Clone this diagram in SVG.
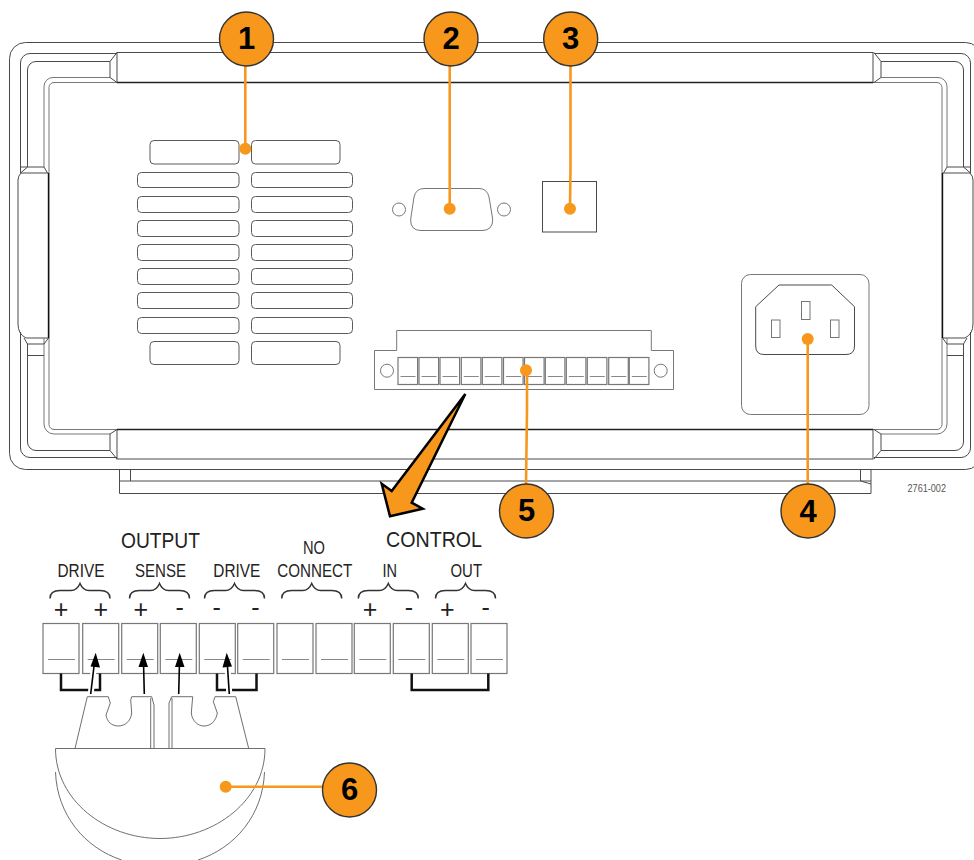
<svg xmlns="http://www.w3.org/2000/svg" xmlns:xlink="http://www.w3.org/1999/xlink" width="974" height="860" viewBox="0 0 974 860">
<style>
.l{fill:none;stroke:#4a4a4a;stroke-width:1}
.g{fill:none;stroke:#777;stroke-width:1}
.w{fill:#fff;stroke:#4a4a4a;stroke-width:1}
.v{fill:#fff;stroke:#5a5a5a;stroke-width:1}
.p{fill:none;stroke:#5f5f5f;stroke-width:.9}
.pw{fill:#fff;stroke:#5f5f5f;stroke-width:.9}
.br{fill:none;stroke:#333;stroke-width:1.5}
.cell{fill:#fff;stroke:#777;stroke-width:1.2}
.dash{stroke:#888;stroke-width:1}
.j{fill:none;stroke:#111;stroke-width:2.5}
.lead{fill:none;stroke:#F7981D;stroke-width:2.6}
.dot{fill:#F7981D}
.badge{fill:#F7981D;stroke:#333;stroke-width:1.4}
.num{font-family:"Liberation Sans",Arial,sans-serif;font-weight:bold;font-size:31px;text-anchor:middle;fill:#000}
.t{font-family:"Liberation Sans",Arial,sans-serif;fill:#222}
.pm{font-family:"Liberation Sans",Arial,sans-serif;font-size:25px;text-anchor:middle;fill:#222}
.a{stroke:#000;stroke-width:1.6;fill:none}
.halo{stroke:#fff;stroke-width:6;fill:none}
</style>
<defs>
<g id="side">
<path class="l" d="M117,53.5H30a9.500,9.500 0 0 0 -9.500,9.500V173"/>
<path class="l" d="M110,61.500H36a8.500,8.500 0 0 0 -8.500,8.500V167"/>
<path class="g" d="M110,77.500H53a9,9 0 0 0 -9,9V167"/>
<path class="l" d="M20.500,167H44M27.500,167L20.500,173M44,167L47.500,173"/>
<path class="l" d="M117,52.500L110,61.500V77.500L117,82.500"/>
<path class="w" d="M21,173H48.500V338H26Q18,334 18,324V180Q18,176 21,173Z"/>
<path d="M48.500,173V338" fill="none" stroke="#111" stroke-width="1.4"/>
<path class="l" d="M20.500,332V448a9.500,9.500 0 0 0 9.500,9.500H117"/>
<path class="l" d="M27.500,344V442a8.500,8.500 0 0 0 8.500,8.500H110"/>
<path class="g" d="M44,338V424a10,10 0 0 0 10,10H110"/>
<path class="l" d="M24,338L27.500,344H44L48.500,338M27.500,355.500H44M27.500,344V355.500"/>
<path class="l" d="M117,429.500L110,434V450.500L117,459"/>
</g>
<g id="cellLow"><rect class="cell" x="0" y="0" width="36" height="50"/><path class="dash" d="M5,36H32"/></g>
<g id="cellTop"><rect class="cell" x="0" y="0" width="19.600" height="27"/><path class="dash" d="M2.500,19H17.500"/></g>
<path id="brace" class="br" d="M-30,15Q-30,7 -20,7H-9Q-3,7 0,0Q3,7 9,7H20Q30,7 30,15"/>
</defs>

<g id="chassis">
<rect class="l" x="9.500" y="42.500" width="972" height="427" rx="16"/>
<rect class="g" x="49" y="82.500" width="893" height="347" rx="5"/>
<use xlink:href="#side" href="#side"/>
<use xlink:href="#side" href="#side" transform="translate(991,0) scale(-1,1)"/>
<rect class="w" x="117" y="52.500" width="756" height="30"/>
<path d="M117,82.500H873" stroke="#222" stroke-width="1.300"/>
<rect class="w" x="117" y="429.500" width="756" height="29.500"/>
<path d="M117,429.500H873" stroke="#222" stroke-width="1.300"/>
<path class="l" d="M119.500,469.500V493.500H871V469.500M119.500,481H871M130.500,469.500V481M860.500,469.500V481L871,484"/>
</g>

<g id="vents">
<rect class="v" x="150" y="140.500" width="89" height="23.500" rx="4"/><rect class="v" x="251.500" y="140.500" width="88.500" height="23.500" rx="4"/>
<rect class="v" x="137.500" y="172.500" width="101.500" height="15" rx="4"/><rect class="v" x="251.500" y="172.500" width="101" height="15" rx="4"/>
<rect class="v" x="137.500" y="196.500" width="101.500" height="16" rx="4"/><rect class="v" x="251.500" y="196.500" width="101" height="16" rx="4"/>
<rect class="v" x="137.500" y="220.500" width="101.500" height="16" rx="4"/><rect class="v" x="251.500" y="220.500" width="101" height="16" rx="4"/>
<rect class="v" x="137.500" y="244.500" width="101.500" height="16" rx="4"/><rect class="v" x="251.500" y="244.500" width="101" height="16" rx="4"/>
<rect class="v" x="137.500" y="268.500" width="101.500" height="16" rx="4"/><rect class="v" x="251.500" y="268.500" width="101" height="16" rx="4"/>
<rect class="v" x="137.500" y="292.500" width="101.500" height="16" rx="4"/><rect class="v" x="251.500" y="292.500" width="101" height="16" rx="4"/>
<rect class="v" x="137.500" y="317.500" width="101.500" height="16" rx="4"/><rect class="v" x="251.500" y="317.500" width="101" height="16" rx="4"/>
<rect class="v" x="150" y="341.500" width="89" height="23" rx="4"/><rect class="v" x="251.500" y="341.500" width="88.500" height="23" rx="4"/>
</g>

<g id="serial-port">
<circle class="g" cx="399" cy="209.500" r="6.500"/><circle class="g" cx="504" cy="209.500" r="6.500"/>
<path class="g" d="M424,188.500H479Q487,188.500 489,197L492.700,219Q493,230.500 482,230.500H421Q410,230.500 410.700,219L414,197Q416,188.500 424,188.500Z"/>
</g>
<g id="usb-port"><rect class="l" x="542.500" y="181.500" width="54" height="50.500"/></g>

<g id="power-inlet">
<rect class="g" x="741.500" y="274.500" width="127.500" height="140" rx="9"/>
<path class="l" d="M779,285H831.700L854.500,306.700V346Q854.500,354.500 846,354.500H764Q755.700,354.500 755.700,346V306.700Z"/>
<rect class="g" x="801.500" y="301.500" width="8.500" height="18"/>
<rect class="g" x="771.500" y="320" width="8.500" height="17.500"/>
<rect class="g" x="830.500" y="320" width="8.500" height="17.500"/>
</g>

<g id="terminal-block">
<path class="g" d="M396.700,350.500V330.500H651.300V350.500H673.500V389.500H374.500V350.500Z"/>
<circle class="g" cx="387" cy="370.700" r="6.500"/><circle class="g" cx="660.700" cy="370.700" r="6.500"/>
<use href="#cellTop" x="398" y="357.500"/><use href="#cellTop" x="419" y="357.500"/><use href="#cellTop" x="440" y="357.500"/><use href="#cellTop" x="461.300" y="357.500"/><use href="#cellTop" x="482.300" y="357.500"/><use href="#cellTop" x="503.500" y="357.500"/><use href="#cellTop" x="524.500" y="357.500"/><use href="#cellTop" x="545.300" y="357.500"/><use href="#cellTop" x="566.300" y="357.500"/><use href="#cellTop" x="587.300" y="357.500"/><use href="#cellTop" x="608.700" y="357.500"/><use href="#cellTop" x="629.300" y="357.500"/>
</g>

<g id="big-arrow"><path d="M465.300,394L411.700,502.700L422.700,508.700L390,516.300L381.700,483.700L391.700,491Z" fill="#F7981D" stroke="#000" stroke-width="2.500" stroke-linejoin="miter"/></g>

<g id="terminal-labels">
<text class="t" x="121" y="547.500" font-size="22" textLength="79" lengthAdjust="spacingAndGlyphs">OUTPUT</text>
<text class="t" x="386" y="547" font-size="22" textLength="96" lengthAdjust="spacingAndGlyphs">CONTROL</text>
<text class="t" x="57.500" y="576.500" font-size="19" textLength="47" lengthAdjust="spacingAndGlyphs">DRIVE</text>
<text class="t" x="135" y="576.500" font-size="19" textLength="51" lengthAdjust="spacingAndGlyphs">SENSE</text>
<text class="t" x="213.300" y="576.500" font-size="19" textLength="47" lengthAdjust="spacingAndGlyphs">DRIVE</text>
<text class="t" x="303" y="554" font-size="19" textLength="22" lengthAdjust="spacingAndGlyphs">NO</text>
<text class="t" x="277.300" y="576.500" font-size="19" textLength="75" lengthAdjust="spacingAndGlyphs">CONNECT</text>
<text class="t" x="382.500" y="576.500" font-size="19" textLength="14.500" lengthAdjust="spacingAndGlyphs">IN</text>
<text class="t" x="450.500" y="576.500" font-size="19" textLength="31.500" lengthAdjust="spacingAndGlyphs">OUT</text>
<use href="#brace" x="80" y="583.500"/><use href="#brace" x="159.500" y="583.500"/><use href="#brace" x="234.500" y="583.500"/><use href="#brace" x="311.700" y="583.500"/><use href="#brace" x="388.300" y="583.500"/><use href="#brace" x="465.500" y="583.500"/>
<text class="pm" x="61" y="617.500">+</text><text class="pm" x="100.700" y="617.500">+</text><text class="pm" x="140.700" y="617.500">+</text>
<text class="pm" x="179.700" y="616">-</text><text class="pm" x="216.700" y="616">-</text><text class="pm" x="255.300" y="616">-</text>
<text class="pm" x="370" y="617.500">+</text><text class="pm" x="409" y="616">-</text><text class="pm" x="447.300" y="617.500">+</text><text class="pm" x="485.700" y="616">-</text>
</g>

<g id="terminals">
<use href="#cellLow" x="43" y="623.500"/><use href="#cellLow" x="82.700" y="623.500"/><use href="#cellLow" x="121.700" y="623.500"/><use href="#cellLow" x="160.300" y="623.500"/><use href="#cellLow" x="199.300" y="623.500"/><use href="#cellLow" x="237.700" y="623.500"/><use href="#cellLow" x="277" y="623.500"/><use href="#cellLow" x="316" y="623.500"/><use href="#cellLow" x="354.300" y="623.500"/><use href="#cellLow" x="393.300" y="623.500"/><use href="#cellLow" x="432.300" y="623.500"/><use href="#cellLow" x="471" y="623.500"/>
<path class="j" d="M61,673.500V690H100V673.500"/>
<path class="j" d="M217,673.500V690H256.500V673.500"/>
<path class="j" d="M411.700,673.500V690H488.300V673.500"/>
</g>

<g id="plug">
<path class="p" d="M55.500,772C57,815 85,848 121.700,860M264.500,772C263,815 235,848 198,860"/>
<path class="pw" d="M55.500,748.500H265C265,800 215,838.500 160,838.500C105,838.500 55.500,800 55.500,748.500Z"/>
<path class="p" d="M75,748.500L87.300,696.700H108.300L110.300,703L106,715C107,722 112,726 118.300,726C125,726 131,721 131.700,713L130.700,700L131.700,696.700H151.700L154,705V748.500"/>
<path class="p" d="M150.700,698V748.500"/>
<path class="p" d="M169,748.500V703L171.700,696.700H192.700L191.300,713C192,721 198,726 204,726C211,726 216,721 217.300,713L213.300,701.700L215,696.700H235.700L248.700,748.500"/>
<path class="p" d="M172,698V748.500"/>
</g>

<g id="connectors">
<path class="halo" d="M90.700,694L94,667M229.300,694L227.500,667"/>
<path class="a" d="M90.700,694L94.500,662M144.300,694L143.500,662M178.700,694L179.500,662M229.300,694L227.200,662"/>
<path d="M95.700,652.700L100,667.500L90.500,666.500Z M143.300,652.700L148,667H138.500Z M179.700,652.700L184.500,667H175Z M226.700,652.700L232,666.500L222.500,667.500Z" fill="#000"/>
<path class="lead" d="M245.300,66V148.700"/>
<path class="lead" d="M449.700,66V208.700"/>
<path class="lead" d="M570.500,66V167L570,208.700"/>
<path class="lead" d="M807.700,339V484"/>
<path class="lead" d="M527,370.300V410L526,484"/>
<path class="lead" d="M225.700,786.700H322.500"/>
</g>

<g id="callout-1"><circle class="dot" cx="245.300" cy="148.700" r="6"/><circle class="badge" cx="246.500" cy="39" r="27"/><text class="num" x="246.500" y="48.500">1</text></g>
<g id="callout-2"><circle class="dot" cx="449.700" cy="208.700" r="6"/><circle class="badge" cx="451" cy="39" r="27"/><text class="num" x="451" y="48.500">2</text></g>
<g id="callout-3"><circle class="dot" cx="570" cy="208.700" r="6"/><circle class="badge" cx="570.700" cy="39" r="27"/><text class="num" x="570.700" y="48.500">3</text></g>
<g id="callout-4"><circle class="dot" cx="807.700" cy="339" r="6"/><circle class="badge" cx="808" cy="511" r="27"/><text class="num" x="808" y="521.500">4</text></g>
<g id="callout-5"><circle class="dot" cx="526" cy="370.300" r="6"/><circle class="badge" cx="526.500" cy="511" r="27"/><text class="num" x="526.500" y="521">5</text></g>
<g id="callout-6"><circle class="dot" cx="225.700" cy="786.700" r="6"/><circle class="badge" cx="349.500" cy="790" r="27"/><text class="num" x="349.500" y="800">6</text></g>

<text id="figure-code" class="t" x="907.500" y="491.500" font-size="11" textLength="38.500" lengthAdjust="spacingAndGlyphs" style="fill:#555">2761-002</text>
</svg>
